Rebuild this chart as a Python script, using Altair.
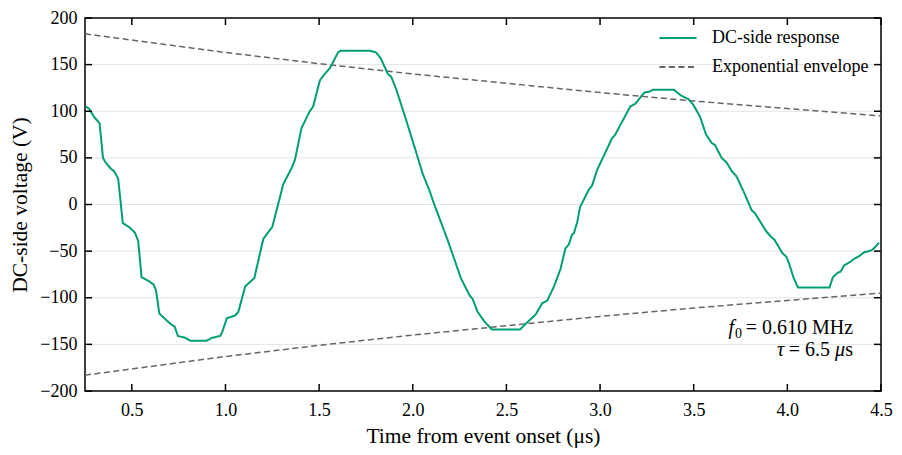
# Damped DC-side response with exponential envelope (Altair)
import pandas as pd
import altair as alt

# ------------------------------------------------------------
# data
# ------------------------------------------------------------
resp_t = [0.254, 0.271, 0.298, 0.328, 0.346, 0.360, 0.390, 0.404, 0.427, 0.452,
          0.484, 0.516, 0.534, 0.552, 0.590, 0.617, 0.629, 0.647, 0.679, 0.706,
          0.729, 0.746, 0.786, 0.812, 0.900, 0.927, 0.972, 0.984, 1.007, 1.052,
          1.069, 1.105, 1.131, 1.154, 1.202, 1.220, 1.250, 1.309, 1.353, 1.371,
          1.406, 1.450, 1.468, 1.504, 1.530, 1.557, 1.601, 1.615, 1.770, 1.805,
          1.831, 1.867, 1.885, 1.911, 1.956, 2.009, 2.053, 2.089, 2.115, 2.186,
          2.257, 2.302, 2.319, 2.346, 2.381, 2.422, 2.573, 2.603, 2.629, 2.656,
          2.691, 2.718, 2.754, 2.789, 2.815, 2.833, 2.851, 2.860, 2.878, 2.893,
          2.940, 2.957, 2.984, 3.064, 3.081, 3.161, 3.188, 3.236, 3.264, 3.282,
          3.395, 3.431, 3.472, 3.498, 3.534, 3.566, 3.596, 3.613, 3.649, 3.676,
          3.702, 3.729, 3.773, 3.809, 3.826, 3.888, 3.915, 3.932, 3.973, 3.995,
          4.012, 4.034, 4.057, 4.225, 4.243, 4.270, 4.284, 4.305, 4.332, 4.359,
          4.385, 4.412, 4.439, 4.457, 4.490]
resp_v = [105, 103, 94, 87, 50, 45, 38, 36, 28, -20,
          -24, -30, -39, -78, -82, -86, -92, -117, -123, -128,
          -131, -141, -143, -146, -146, -143, -141, -136, -122, -119,
          -115, -88, -83, -79, -37, -32, -24, 22, 39, 48,
          82, 100, 105, 133, 140, 146, 163, 165, 165, 163,
          156, 140, 137, 124, 96, 62, 33, 15, 0, -38,
          -79, -97, -101, -115, -125, -134, -134, -128, -123, -118,
          -106, -103, -88, -69, -47, -43, -32, -31, -19, -3,
          16, 20, 37, 71, 75, 105, 108, 120, 121, 123,
          123, 117, 113, 107, 94, 75, 66, 64, 50, 45,
          36, 30, 11, -6, -9, -29, -35, -38, -52, -56,
          -65, -79, -89, -89, -78, -73, -72, -65, -62, -58,
          -55, -51, -50, -48, -41]

env_t = [0.25, 1.0, 1.5, 2.0, 2.5, 3.0, 3.5, 4.0, 4.5]
env_v = [183, 163, 151, 140, 130, 120, 111, 103, 95]

x_ticks = [0.5, 1.0, 1.5, 2.0, 2.5, 3.0, 3.5, 4.0, 4.5]
y_ticks = [-200, -150, -100, -50, 0, 50, 100, 150, 200]

series_names = ["DC-side response", "Exponential envelope"]

# ------------------------------------------------------------
# tables
# ------------------------------------------------------------
resp = pd.DataFrame({"t": resp_t, "v": resp_v, "series": series_names[0]})
env = pd.concat([
    pd.DataFrame({"t": env_t, "v": env_v, "branch": "upper"}),
    pd.DataFrame({"t": env_t, "v": [-v for v in env_v], "branch": "lower"}),
])
env["series"] = series_names[1]

W, H = 796, 373
FONT = "Liberation Serif"
x_scale = alt.Scale(domain=[0.25, 4.5], nice=False, zero=False)
y_scale = alt.Scale(domain=[-200, 200], nice=False)

legend = alt.Legend(
    title=None, orient="none", legendX=573, legendY=0,
    symbolType="stroke", symbolSize=1380, symbolStrokeWidth=2,
    labelFontSize=18, labelFont=FONT, labelColor="black",
    labelOffset=14, rowPadding=-6, padding=0,
)
color = alt.Color("series:N", scale=alt.Scale(domain=series_names, range=["#009E73", "#666666"]),
                  legend=legend)
dash = alt.StrokeDash("series:N", scale=alt.Scale(domain=series_names, range=[[1, 0], [6, 3.5]]),
                      legend=legend)

x_axis = alt.Axis(values=x_ticks, ticks=False, domain=False, grid=False, labelPadding=10,
                  labelFlush=False, title="Time from event onset (μs)", titlePadding=6,
                  format=".1f")
y_axis = alt.Axis(values=y_ticks, ticks=False, domain=False, grid=False, labelPadding=8,
                  labelFlush=False, title="DC-side voltage (V)", titlePadding=8,
                  labelExpr="replace(datum.label, '-', '−')")

# ------------------------------------------------------------
# layers
# ------------------------------------------------------------
grid = alt.Chart(pd.DataFrame({"v": y_ticks[1:-1]})).mark_rule(
    color="#e3e3e3", strokeWidth=1
).encode(y=alt.Y("v:Q", scale=y_scale, axis=y_axis))

env_line = alt.Chart(env).mark_line(strokeWidth=1.5, clip=True).encode(
    x=alt.X("t:Q", scale=x_scale, axis=x_axis),
    y=alt.Y("v:Q", scale=y_scale),
    color=color, strokeDash=dash, detail="branch:N",
)

resp_line = alt.Chart(resp).mark_line(strokeWidth=2, clip=True).encode(
    x=alt.X("t:Q", scale=x_scale),
    y=alt.Y("v:Q", scale=y_scale),
    color=color, strokeDash=dash,
)

# inward ticks on all four sides
xt = alt.Chart(pd.DataFrame({"t": x_ticks}))
yt = alt.Chart(pd.DataFrame({"v": y_ticks}))
tick_style = dict(color="black", strokeWidth=1.5)
ticks = [
    xt.mark_rule(**tick_style).encode(x=alt.X("t:Q", scale=x_scale), y=alt.value(H), y2=alt.value(H - 7)),
    xt.mark_rule(**tick_style).encode(x=alt.X("t:Q", scale=x_scale), y=alt.value(0), y2=alt.value(7)),
    yt.mark_rule(**tick_style).encode(y=alt.Y("v:Q", scale=y_scale), x=alt.value(0), x2=alt.value(7)),
    yt.mark_rule(**tick_style).encode(y=alt.Y("v:Q", scale=y_scale), x=alt.value(W), x2=alt.value(W - 7)),
]

# annotation (mixed italic pieces)
ann_x, ann_y1, ann_y2 = 4.351, -138.5, -163.0
ann = pd.DataFrame([
    {"text": "= 0.610 MHz", "y": ann_y1, "dx": 0, "dy": 0, "style": "normal", "size": 20},
    {"text": "0", "y": ann_y1, "dx": -111, "dy": 4, "style": "normal", "size": 14},
    {"text": "f", "y": ann_y1, "dx": -119, "dy": 0, "style": "italic", "size": 20},
    {"text": "s", "y": ann_y2, "dx": 0, "dy": 0, "style": "normal", "size": 20},
    {"text": "μ", "y": ann_y2, "dx": -8, "dy": 0, "style": "italic", "size": 20},
    {"text": "= 6.5", "y": ann_y2, "dx": -23, "dy": 0, "style": "normal", "size": 20},
    {"text": "τ", "y": ann_y2, "dx": -69, "dy": 0, "style": "italic", "size": 20},
])
ann["x"] = ann_x
texts = []
for _, r in ann.iterrows():
    texts.append(
        alt.Chart(pd.DataFrame([r])).mark_text(
            align="right", baseline="alphabetic", font=FONT, fontSize=int(r["size"]),
            fontStyle=r["style"], dx=int(r["dx"]), dy=int(r["dy"]), color="black",
        ).encode(x=alt.X("x:Q", scale=x_scale), y=alt.Y("y:Q", scale=y_scale), text="text:N")
    )

chart = alt.layer(grid, env_line, resp_line, *ticks, *texts).properties(
    width=W, height=H,
    autosize=alt.AutoSizeParams(type="none"),
    padding={"left": 77, "top": 10, "right": 13, "bottom": 62},
).configure_view(
    stroke="black", strokeWidth=1.5
).configure_axis(
    labelFont=FONT, titleFont=FONT, labelFontSize=18, titleFontSize=21.5,
    labelColor="black", titleColor="black", titleFontWeight="normal",
)

chart.save("out.html", embed_options={"renderer": "svg", "actions": False})
